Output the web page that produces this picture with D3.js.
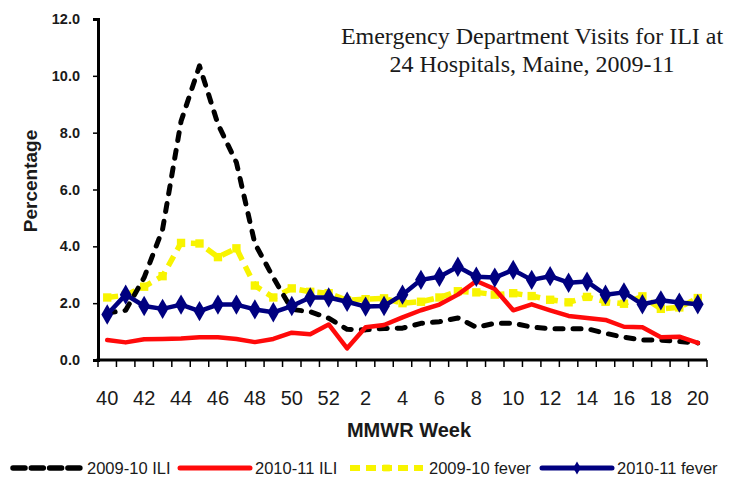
<!DOCTYPE html>
<html>
<head>
<meta charset="utf-8">
<script src="https://cdn.jsdelivr.net/npm/d3@7"></script>
<style>
  html, body { margin: 0; padding: 0; background: #fff; }
  svg { display: block; }
  text { font-family: Arial, "Liberation Sans", sans-serif; fill: #1a1a1a; }
</style>
</head>
<body>
<svg id="chart" width="734" height="481"></svg>
<script>
// MMWR weeks, season runs week 40 through week 20 of the following year
const weeks = ["40","41","42","43","44","45","46","47","48","49","50","51","52",
               "1","2","3","4","5","6","7","8","9","10","11","12","13","14","15","16","17","18","19","20"];
const tickWeeks = ["40","42","44","46","48","50","52","2","4","6","8","10","12","14","16","18","20"];
const yTicks = [0, 2, 4, 6, 8, 10, 12];

// Percent of ED visits
const ili0910 = [1.65, 1.75, 2.9, 4.6, 8.4, 10.35, 8.3, 6.95, 4.1, 2.9, 1.78, 1.7, 1.47,
                 1.08, 1.06, 1.11, 1.12, 1.29, 1.35, 1.48, 1.15, 1.29, 1.29, 1.16, 1.1, 1.1, 1.1, 0.94, 0.8, 0.7, 0.7, 0.65, 0.6];
const ili1011 = [0.7, 0.62, 0.73, 0.74, 0.76, 0.8, 0.8, 0.74, 0.63, 0.74, 0.96, 0.91, 1.25,
                 0.41, 1.15, 1.23, 1.5, 1.75, 1.95, 2.3, 2.78, 2.5, 1.75, 1.96, 1.75, 1.55, 1.48, 1.41, 1.17, 1.15, 0.8, 0.82, 0.6];
const fever0910 = [2.2, 2.28, 2.58, 2.95, 4.12, 4.1, 3.62, 3.93, 2.62, 2.2, 2.52, 2.4, 2.35,
                   2.1, 2.14, 2.17, 2.0, 2.05, 2.2, 2.42, 2.38, 2.3, 2.35, 2.25, 2.12, 2.03, 2.22, 2.05, 1.98, 2.24, 1.8, 1.85, 2.18];
const fever1011 = [1.6, 2.3, 1.9, 1.8, 1.95, 1.72, 1.95, 1.95, 1.78, 1.68, 1.9, 2.2, 2.2,
                   2.05, 1.88, 1.9, 2.3, 2.82, 2.93, 3.28, 2.93, 2.9, 3.17, 2.82, 2.95, 2.72, 2.76, 2.3, 2.38, 1.96, 2.1, 2.02, 1.96];

const titleLines = ["Emergency Department Visits for ILI at", "24 Hospitals, Maine, 2009-11"];

const svg = d3.select("#chart");
const plot = { left: 98, right: 707, top: 19, bottom: 360 };

const x = d3.scaleBand().domain(weeks).range([plot.left, plot.right]).padding(0);
const y = d3.scaleLinear().domain([0, 12]).range([plot.bottom, plot.top]);
const cx = w => x(w) + x.bandwidth() / 2;

// Series, drawn in stacking order
const series = [
  { name: "2009-10 fever", values: fever0910, color: "#f8f400", width: 5.5, dash: "11,7", cap: "butt", marker: "square" },
  { name: "2009-10 ILI",   values: ili0910,   color: "#000000", width: 5,   dash: "8,10", cap: "round", marker: null },
  { name: "2010-11 ILI",   values: ili1011,   color: "#ff0a0a", width: 4.5, dash: null,   cap: "round", marker: null },
  { name: "2010-11 fever", values: fever1011, color: "#000080", width: 4.5, dash: null,   cap: "round", marker: "diamond" }
];

const line = d3.line()
  .x((d, i) => cx(weeks[i]))
  .y(d => y(d));

const diamond = d3.symbol().type(d3.symbolDiamond).size(120);
const square = d3.symbol().type(d3.symbolSquare).size(70);

series.forEach(s => {
  const g = svg.append("g").attr("class", "series");
  g.append("path")
    .datum(s.values)
    .attr("d", line)
    .attr("fill", "none")
    .attr("stroke", s.color)
    .attr("stroke-width", s.width)
    .attr("stroke-linejoin", "round")
    .attr("stroke-linecap", s.cap)
    .attr("stroke-dasharray", s.dash);
  if (s.marker) {
    g.selectAll("path.marker")
      .data(s.values)
      .join("path")
      .attr("class", "marker")
      .attr("transform", (d, i) => `translate(${cx(weeks[i])},${y(d)})`)
      .attr("d", s.marker === "diamond" ? diamond : square)
      .attr("fill", s.color);
  }
});

// Y axis
const yAxis = svg.append("g")
  .attr("transform", `translate(${plot.left},0)`)
  .call(d3.axisLeft(y).tickValues(yTicks).tickFormat(d3.format(".1f")).tickSize(5).tickPadding(13));
yAxis.select(".domain").attr("stroke", "#000").attr("stroke-width", 3);
yAxis.selectAll(".tick line").attr("stroke", "#000").attr("stroke-width", 1.5);
yAxis.selectAll(".tick text")
  .style("font-size", "14.5px").style("font-weight", "bold")
  .style("font-family", "Arial, 'Liberation Sans', sans-serif").attr("fill", "#222");

// X axis: labels every other week, tick marks on week boundaries
const xAxis = svg.append("g")
  .attr("transform", `translate(0,${plot.bottom})`)
  .call(d3.axisBottom(x).tickValues(tickWeeks).tickSize(0).tickPadding(31));
xAxis.select(".domain").remove();
xAxis.selectAll(".tick text")
  .style("font-size", "20px")
  .style("font-family", "'Liberation Sans', Arial, sans-serif")
  .attr("fill", "#1a1a1a");

const boundaries = weeks.map(w => x(w)).concat([plot.right]);
svg.append("g").selectAll("line")
  .data(boundaries)
  .join("line")
  .attr("x1", d => d).attr("x2", d => d)
  .attr("y1", plot.bottom).attr("y2", plot.bottom + 7)
  .attr("stroke", "#000").attr("stroke-width", 1.5);
svg.append("line")
  .attr("x1", plot.left - 1.5).attr("x2", plot.right)
  .attr("y1", plot.bottom).attr("y2", plot.bottom)
  .attr("stroke", "#000").attr("stroke-width", 3);

// Axis titles
svg.append("text")
  .attr("transform", "translate(37,181) rotate(-90)")
  .attr("text-anchor", "middle")
  .style("font-size", "19px").style("font-weight", "bold")
  .text("Percentage");

svg.append("text")
  .attr("x", 409)
  .attr("y", 437)
  .attr("text-anchor", "middle")
  .style("font-size", "20px").style("font-weight", "bold")
  .text("MMWR Week");

// Chart title
svg.append("g").selectAll("text")
  .data(titleLines)
  .join("text")
  .attr("x", 532)
  .attr("y", (d, i) => 44 + i * 28)
  .attr("text-anchor", "middle")
  .style("font-family", "'Liberation Serif', 'Times New Roman', serif")
  .style("font-size", "24px")
  .text(d => d);

// Legend
const legendItems = [
  { s: series[1], x0: 10,  x1: 82,  tx: 87 },
  { s: series[2], x0: 180, x1: 250, tx: 255 },
  { s: series[0], x0: 350, x1: 423, tx: 429 },
  { s: series[3], x0: 542, x1: 612, tx: 617 }
];
const ly = 468;
const legend = svg.append("g").attr("class", "legend");
legendItems.forEach(it => {
  const s = it.s;
  legend.append("line")
    .attr("x1", it.x0 + (s.cap === "round" && s.dash ? 3 : 0)).attr("x2", it.x1)
    .attr("y1", ly).attr("y2", ly)
    .attr("stroke", s.color)
    .attr("stroke-width", s.width + 0.5)
    .attr("stroke-linecap", s.cap)
    .attr("stroke-dasharray", s.dash ? (s.marker ? "10,6" : "12,6.3") : null);
  if (s.marker) {
    legend.append("path")
      .attr("transform", `translate(${(it.x0 + it.x1) / 2},${ly})`)
      .attr("d", s.marker === "diamond" ? d3.symbol().type(d3.symbolDiamond).size(50) : d3.symbol().type(d3.symbolSquare).size(45))
      .attr("fill", s.color);
  }
  legend.append("text")
    .attr("x", it.tx).attr("y", ly + 6)
    .style("font-size", "16.5px")
    .text(s.name);
});
</script>
</body>
</html>
